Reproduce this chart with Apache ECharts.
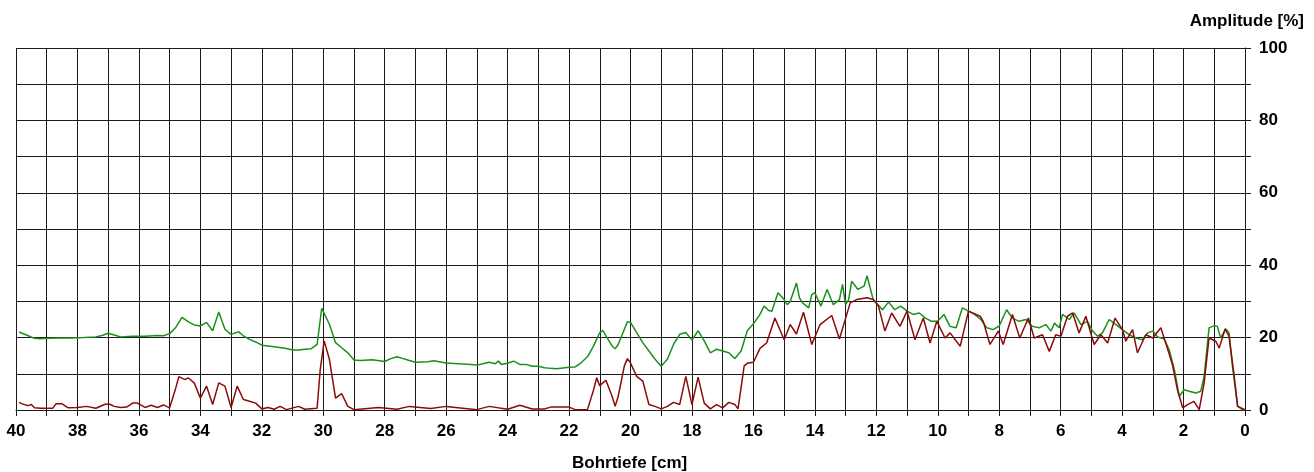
<!DOCTYPE html>
<html>
<head>
<meta charset="utf-8">
<script src="https://cdn.jsdelivr.net/npm/echarts@6/dist/echarts.min.js"></script>
<style>
html,body{margin:0;padding:0;background:#fff;}
#chart{width:1314px;height:472px;}
</style>
</head>
<body>
<div id="chart"></div>
<script>
// Depth [cm] and amplitude [%]
const greenDepth = [39.9,39.8,39.6,39.4,39.2,39.0,38.6,38.2,37.8,37.4,37.2,37.0,36.8,36.6,36.2,35.8,35.4,35.2,35.0,34.8,34.6,34.4,34.2,34.0,33.8,33.6,33.4,33.2,33.0,32.75,32.6,32.4,32.2,32.0,31.6,31.2,31.0,30.8,30.6,30.4,30.2,30.05,29.8,29.6,29.4,29.2,29.0,28.8,28.4,28.0,27.8,27.6,27.4,27.2,27.0,26.6,26.4,26.0,25.6,25.2,25.0,24.8,24.6,24.4,24.3,24.2,24.0,23.8,23.6,23.4,23.2,23.0,22.8,22.6,22.4,22.2,22.0,21.8,21.6,21.4,21.2,21.0,20.9,20.8,20.6,20.5,20.4,20.2,20.1,20.0,19.8,19.6,19.4,19.2,19.0,18.8,18.6,18.4,18.2,18.0,17.8,17.6,17.4,17.2,17.0,16.8,16.6,16.4,16.2,16.0,15.8,15.65,15.5,15.4,15.2,15.0,14.9,14.8,14.6,14.5,14.4,14.2,14.1,14.0,13.8,13.6,13.4,13.2,13.1,13.0,12.9,12.8,12.6,12.4,12.3,12.2,12.1,12.0,11.8,11.6,11.4,11.2,11.0,10.8,10.6,10.4,10.2,10.0,9.8,9.6,9.4,9.2,9.0,8.8,8.6,8.4,8.2,8.0,7.76,7.57,7.35,7.13,6.92,6.7,6.48,6.32,6.2,6.05,5.94,5.72,5.56,5.34,5.13,4.96,4.8,4.64,4.42,4.2,3.99,3.77,3.55,3.34,3.17,3.0,2.85,2.63,2.47,2.3,2.14,1.98,1.82,1.6,1.44,1.33,1.17,1.0,0.9,0.79,0.62,0.52,0.41,0.24,0.08,0.0];
const greenAmp = [21.6,21.2,20.5,19.8,19.7,19.8,19.9,19.9,20.0,20.2,20.6,21.2,20.7,20.2,20.4,20.4,20.6,20.5,21.1,22.8,25.6,24.4,23.5,23.2,24.2,21.9,27.1,22.3,20.9,21.6,20.5,19.5,18.8,17.9,17.5,17.0,16.6,16.6,16.8,16.9,18.1,28.1,23.7,18.6,17.2,15.8,13.8,13.7,13.9,13.4,14.2,14.7,14.2,13.7,13.2,13.3,13.6,13.0,12.8,12.6,12.4,12.8,13.2,12.8,13.5,12.6,12.9,13.5,12.6,12.6,12.1,12.1,11.7,11.5,11.4,11.6,11.8,11.9,13.1,14.7,17.7,21.4,21.9,20.5,17.7,16.9,18.1,22.3,24.4,24.2,21.4,18.6,16.3,14.0,12.1,14.0,18.1,20.9,21.4,19.3,21.9,19.1,15.8,16.8,16.3,15.8,14.2,16.3,21.9,23.8,26.2,28.7,27.5,27.3,32.4,30.5,29.1,30.0,35.1,31.0,29.6,28.2,31.9,32.4,28.7,33.3,29.1,30.5,34.7,29.1,30.5,35.6,33.3,34.2,37.1,33.7,30.5,29.6,27.7,29.8,27.7,28.7,27.3,26.4,26.8,25.4,24.5,24.5,26.4,23.1,22.7,28.2,27.3,26.4,25.0,22.7,22.2,23.2,27.7,25.4,24.5,25.0,23.1,22.7,23.6,21.8,24.0,22.7,26.4,25.0,26.8,23.6,24.5,21.8,20.4,21.3,25.0,23.6,22.2,20.8,19.9,19.4,21.3,21.8,20.2,19.6,16.7,11.2,3.8,5.6,5.2,4.7,5.2,9.3,22.7,23.3,23.1,19.9,22.4,21.3,12.1,1.0,0.1,0.0];

const redDepth = [39.9,39.8,39.6,39.5,39.4,39.2,38.8,38.7,38.5,38.3,38.0,37.7,37.4,37.1,36.95,36.8,36.6,36.4,36.2,36.05,35.8,35.6,35.4,35.2,35.0,34.8,34.7,34.5,34.4,34.2,34.0,33.8,33.6,33.4,33.2,33.0,32.8,32.6,32.4,32.2,32.0,31.8,31.6,31.4,31.2,30.8,30.6,30.2,30.1,29.97,29.8,29.6,29.4,29.2,29.0,28.2,27.6,27.2,26.5,26.0,25.0,24.6,24.0,23.6,23.2,22.8,22.6,22.0,21.8,21.4,21.2,21.1,21.0,20.9,20.8,20.6,20.5,20.4,20.2,20.1,20.0,19.8,19.6,19.4,19.2,19.0,18.8,18.6,18.4,18.2,18.0,17.8,17.6,17.4,17.2,17.0,16.8,16.6,16.5,16.3,16.2,16.0,15.78,15.57,15.3,15.0,14.8,14.6,14.37,14.1,13.83,13.45,13.2,12.85,12.64,12.3,12.1,11.93,11.72,11.5,11.23,11.0,10.74,10.47,10.25,10.03,9.76,9.6,9.27,9.0,8.62,8.52,8.3,8.03,7.87,7.57,7.33,7.05,6.86,6.59,6.37,6.16,5.99,5.78,5.61,5.4,5.18,4.91,4.69,4.47,4.23,3.99,3.88,3.66,3.5,3.23,3.0,2.74,2.58,2.36,2.2,2.03,1.87,1.66,1.49,1.33,1.17,0.95,0.84,0.65,0.52,0.35,0.24,0.0];
const redAmp = [2.1,1.7,1.2,1.5,0.6,0.5,0.5,1.7,1.7,0.6,0.7,1.0,0.5,1.6,1.6,1.0,0.7,0.8,1.9,1.9,0.7,1.3,0.7,1.4,0.6,6.1,9.2,8.4,8.9,7.5,3.3,6.6,1.5,7.5,6.6,0.7,6.6,2.9,2.4,1.9,0.3,0.7,0.2,1.0,0.1,1.0,0.2,0.5,11.0,19.1,14.0,3.3,4.5,1.0,0.1,0.7,0.2,1.0,0.4,1.0,0.1,1.0,0.2,1.3,0.3,0.3,0.8,0.8,0.1,0.1,5.6,8.9,6.6,7.5,8.2,3.8,1.0,3.8,12.2,14.2,13.0,9.3,8.0,1.5,1.0,0.3,1.0,2.1,1.5,9.3,1.5,9.1,1.9,0.3,1.5,0.6,2.1,1.5,0.3,12.2,12.9,13.2,17.1,18.5,25.4,19.4,23.6,21.0,27.0,18.1,23.6,26.1,19.6,29.6,30.5,31.0,30.5,28.7,21.8,26.8,23.1,27.3,19.4,25.4,18.5,24.5,19.9,21.3,17.6,27.3,25.9,24.5,18.1,21.8,18.1,26.4,19.9,25.4,19.9,20.8,16.2,20.8,20.4,25.9,26.8,21.3,25.9,18.1,20.8,18.5,25.4,22.2,19.0,22.2,15.8,20.8,19.9,22.7,18.5,12.5,5.6,0.6,1.5,2.4,0.1,7.5,19.9,19.0,17.1,22.4,20.4,9.3,1.0,0.1];

const xTickLabels = ['0','2','4','6','8','10','12','14','16','18','20','22','24','26','28','30','32','34','36','38','40'];
const yTickLabels = ['0','20','40','60','80','100'];
const xTitle = 'Bohrtiefe [cm]';
const yTitle = 'Amplitude [%]';

const pairs = (xs, ys) => xs.map((x, i) => [x, ys[i]]);
const FONT = 'Liberation Sans, Arial, sans-serif';
const gridColor = '#1a1a1a';

const chart = echarts.init(document.getElementById('chart'), null, {renderer: 'canvas'});
chart.setOption({
  animation: false,
  backgroundColor: '#fff',
  grid: {left: 16, right: 69, top: 48, bottom: 62, containLabel: false, outerBoundsMode: 'none'},
  xAxis: {
    type: 'value', min: 0, max: 40, interval: 1, inverse: true,
    axisLine: {show: true, lineStyle: {color: gridColor, width: 1}},
    axisTick: {show: true, length: 6, lineStyle: {color: gridColor}},
    splitLine: {show: true, lineStyle: {color: gridColor, width: 1}},
    axisLabel: {
      margin: 13, color: '#000', fontFamily: FONT, fontWeight: 'bold', fontSize: 17,
      formatter: v => xTickLabels.includes(String(v)) ? String(v) : ''
    }
  },
  yAxis: {
    type: 'value', position: 'right', min: 0, max: 100, interval: 10,
    axisLine: {show: true, lineStyle: {color: gridColor, width: 1}},
    axisTick: {show: true, length: 6, lineStyle: {color: gridColor}},
    splitLine: {show: true, lineStyle: {color: gridColor, width: 1}},
    axisLabel: {
      margin: 14, color: '#000', fontFamily: FONT, fontWeight: 'bold', fontSize: 17,
      formatter: v => yTickLabels.includes(String(v)) ? String(v) : ''
    }
  },
  graphic: [
    {type: 'text', right: 10, top: 13, style: {text: yTitle, fill: '#000', font: 'bold 17px ' + FONT}},
    {type: 'text', left: 572, top: 455, style: {text: xTitle, fill: '#000', font: 'bold 17px ' + FONT}}
  ],
  series: [
    {type: 'line', name: 'green', data: pairs(greenDepth, greenAmp), showSymbol: false, smooth: false,
     lineStyle: {color: '#1b8f1b', width: 1.5}, itemStyle: {color: '#1b8f1b'}},
    {type: 'line', name: 'red', data: pairs(redDepth, redAmp), showSymbol: false, smooth: false,
     lineStyle: {color: '#8c0a0a', width: 1.5}, itemStyle: {color: '#8c0a0a'}}
  ]
});
</script>
</body>
</html>
